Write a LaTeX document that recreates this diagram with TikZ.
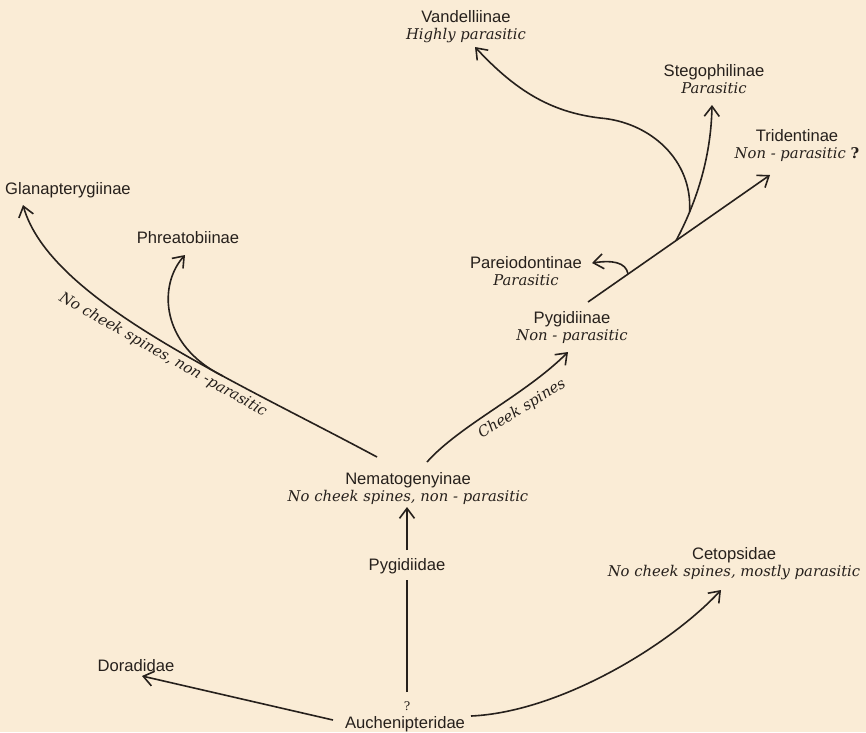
\documentclass[tikz,border=0pt]{standalone}
\usepackage{fontspec}
\setmainfont{DejaVu Serif}
\setsansfont{Liberation Sans}
\usetikzlibrary{arrows.meta}
\definecolor{bgcream}{RGB}{250,236,214}
\definecolor{ink}{RGB}{38,32,28}
\newcommand{\taxname}[1]{{\sffamily\fontsize{16.6}{17}\selectfont #1}}
\newcommand{\taxdesc}[1]{{\itshape\fontsize{14.8}{17}\selectfont #1}}
\tikzset{
  lab/.style={align=center, inner sep=1pt, text=ink, font=\fontsize{16}{17}\selectfont},
  rotlab/.style={inner sep=0pt, text=ink, font=\itshape\fontsize{14.8}{17}\selectfont},
  branch/.style={draw=ink, line width=1.6pt},
  arr/.style={branch, -{Straight Barb[length=10pt,width=15pt,line width=1.6pt]}},
}
\begin{document}
\begin{tikzpicture}[x=1pt,y=-1pt]
\useasboundingbox (0,0) rectangle (866,732);
\fill[bgcream] (0,0) rectangle (866,732);

% nodes
\node[lab] (vand) at (466,27) {\taxname{Vandelliinae}\\\taxdesc{Highly parasitic}};
\node[lab] (steg) at (714,79) {\taxname{Stegophilinae}\\\taxdesc{Parasitic}};
\node[lab] (trid) at (797,146) {\taxname{Tridentinae}\\\taxdesc{Non - parasitic {\upshape\bfseries ?}}};
\node[lab] (glan) at (68,190) {\taxname{Glanapterygiinae}};
\node[lab] (phre) at (188,238) {\taxname{Phreatobiinae}};
\node[lab] (pare) at (526,271) {\taxname{Pareiodontinae}\\\taxdesc{Parasitic}};
\node[lab] (pygi) at (572,328) {\taxname{Pygidiinae}\\\taxdesc{Non - parasitic}};
\node[lab] (nema) at (408,489) {\taxname{Nematogenyinae}\\\taxdesc{No cheek spines, non - parasitic}};
\node[lab] (pygd) at (407,566) {\taxname{Pygidiidae}};
\node[lab] (ceto) at (734,564) {\taxname{Cetopsidae}\\\taxdesc{No cheek spines, mostly parasitic}};
\node[lab] (dora) at (136,666) {\taxname{Doradidae}};
\node[lab] (auch) at (405,724) {\taxname{Auchenipteridae}};
\node[lab, font=\fontsize{12}{13}\selectfont] (q) at (407,706) {?};

% branch labels
\node[rotlab, rotate=-29.5] (nolab) at (163,355) {No cheek spines, non -parasitic};
\node[rotlab, rotate=32] (cheeklab) at (522,409) {Cheek spines};

% connectors
\draw[arr] ([shift={(-72,-4)}]auch.center) -- ([shift={(6,10)}]dora.center);
\draw[arr] ([shift={(66,-8)}]auch.center) .. controls (560,712) and (670,645) .. ([shift={(-13,26)}]ceto.center);
\draw[branch] ([shift={(0,-14)}]q.center) -- ([shift={(0,14)}]pygd.center);
\draw[arr] ([shift={(0,-16)}]pygd.center) -- ([shift={(-1,18)}]nema.center);

\draw[arr] ([shift={(-31,-32)}]nema.center) .. controls (230,378) and (50,300) .. ([shift={(-45,15)}]glan.center) coordinate[pos=0.34] (jph);
\draw[arr] (jph) .. controls (160,345) and (158,285) .. ([shift={(-3,17)}]phre.center);

\draw[arr] ([shift={(19,-27)}]nema.center) .. controls (460,425) and (525,395) .. ([shift={(-4,24)}]pygi.center);

\draw[arr] ([shift={(16,-26)}]pygi.center) -- ([shift={(-27,29)}]trid.center) coordinate[pos=0.22] (jp) coordinate[pos=0.484] (js);
\draw[arr] (jp) .. controls (626,262) and (612,260) .. ([shift={(66,-8)}]pare.center);
\draw[arr] (js) .. controls (695,205) and (711,160) .. ([shift={(-2,26)}]steg.center) coordinate[pos=0.25] (jv);
\draw[arr] (jv) .. controls (693,160) and (650,122) .. (600,118) .. controls (550,112) and (515,90) .. ([shift={(9,20)}]vand.center);
\end{tikzpicture}
\end{document}
